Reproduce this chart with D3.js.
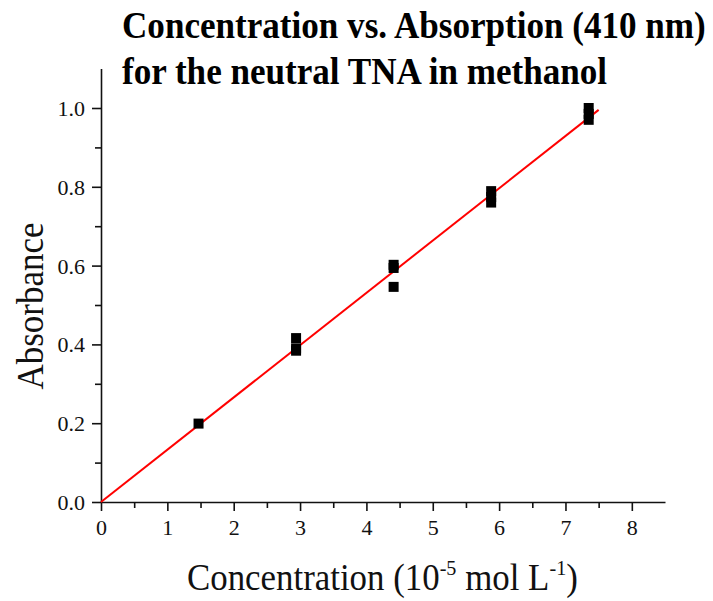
<!DOCTYPE html>
<html><head><meta charset="utf-8">
<script src="https://cdn.jsdelivr.net/npm/d3@7"></script>
<style>body{margin:0;background:#fff}</style>
</head><body>
<svg id="c" width="713" height="601"></svg>
<script>
const concentration = [1.47, 2.94, 2.94, 2.94, 4.41, 4.41, 4.41, 5.88, 5.88, 5.88, 7.35, 7.35, 7.35];
const absorbance    = [0.199, 0.416, 0.390, 0.384, 0.602, 0.594, 0.546, 0.789, 0.774, 0.760, 1.000, 0.985, 0.970];
const fitX = [0, 7.5];
const fitSlope = 0.1327;
const xTicks = [0,1,2,3,4,5,6,7,8];
const yTicks = [0.0,0.2,0.4,0.6,0.8,1.0];
const titleLines = ["Concentration vs. Absorption (410 nm)", "for the neutral TNA in methanol"];

const svg = d3.select("#c");
const x = d3.scaleLinear().domain([0, 8.5]).range([101, 665]);
const y = d3.scaleLinear().domain([0, 1.1]).range([502, 68.6]);
const serif = "'Liberation Serif','Times New Roman',serif";

// axes
const xAxis = svg.append("g").attr("transform", `translate(0,${y(0)})`)
  .call(d3.axisBottom(x).tickValues(xTicks).tickFormat(d3.format("d")).tickSize(9).tickSizeOuter(0));
svg.append("g").attr("transform", `translate(0,${y(0)})`)
  .call(d3.axisBottom(x).tickValues(d3.range(0.5, 8.5, 1)).tickFormat("").tickSize(6).tickSizeOuter(0))
  .select(".domain").remove();
const yAxis = svg.append("g").attr("transform", `translate(${x(0)},0)`)
  .call(d3.axisLeft(y).tickValues(yTicks).tickFormat(d3.format(".1f")).tickSize(9).tickSizeOuter(0));
svg.append("g").attr("transform", `translate(${x(0)},0)`)
  .call(d3.axisLeft(y).tickValues(d3.range(0.1, 1.1, 0.2)).tickFormat("").tickSize(6).tickSizeOuter(0))
  .select(".domain").remove();
svg.selectAll(".domain, .tick line").attr("stroke", "#111").attr("stroke-width", 1.6);
svg.selectAll(".tick text").attr("font-family", serif).attr("font-size", 22).attr("fill", "#111");
xAxis.selectAll(".tick text").attr("y", 0).attr("dy", 0).attr("transform", "translate(0,33)");
yAxis.selectAll(".tick text").attr("x", -16).attr("dy", "0.34em");

// fit line
svg.append("line")
  .attr("x1", x(fitX[0])).attr("y1", y(fitX[0]*fitSlope))
  .attr("x2", x(fitX[1])).attr("y2", y(fitX[1]*fitSlope))
  .attr("stroke", "#f00").attr("stroke-width", 2);

// points
const s = 10;
svg.append("g").selectAll("rect").data(concentration).join("rect")
  .attr("x", (d) => x(d) - s/2).attr("y", (d, i) => y(absorbance[i]) - s/2)
  .attr("width", s).attr("height", s).attr("fill", "#000");

// helper: horizontally fit a group to a target width
function fitWidth(g, x0, target) {
  const bb = g.node().getBBox();
  const k = target / bb.width;
  g.attr("transform", `translate(${x0},0) scale(${k},1) translate(${-bb.x},0)`);
  return k;
}

// title
const tg = svg.append("g");
tg.selectAll("text").data(titleLines).join("text")
  .attr("x", 0).attr("y", (d, i) => 38 + i*46)
  .attr("font-family", serif).attr("font-weight", "bold").attr("font-size", 38)
  .attr("fill", "#000").text(d => d);
{
  const w1 = tg.select("text").node().getComputedTextLength();
  const k = 584 / w1;
  tg.attr("transform", `translate(122,0) scale(${k},1)`);
}

// y label
const yl = svg.append("g").attr("transform", "translate(43,306) rotate(-90)");
const ylt = yl.append("text").attr("text-anchor", "middle").attr("font-family", serif).attr("font-size", 38)
  .attr("fill", "#111").text("Absorbance");
{
  const w = ylt.node().getComputedTextLength();
  ylt.attr("transform", `scale(${167 / w},1)`);
}

// x label
const xg = svg.append("g");
const xl = xg.append("text").attr("x", 0).attr("y", 590)
  .attr("font-family", serif).attr("font-size", 38).attr("fill", "#111");
xl.append("tspan").text("Concentration (10");
xl.append("tspan").attr("dy", -15).attr("font-size", 22).text("-5");
xl.append("tspan").attr("dy", 15).text(" mol L");
xl.append("tspan").attr("dy", -15).attr("font-size", 22).text("-1");
xl.append("tspan").attr("dy", 15).text(")");
fitWidth(xg, 187, 391);
</script>
</body></html>
